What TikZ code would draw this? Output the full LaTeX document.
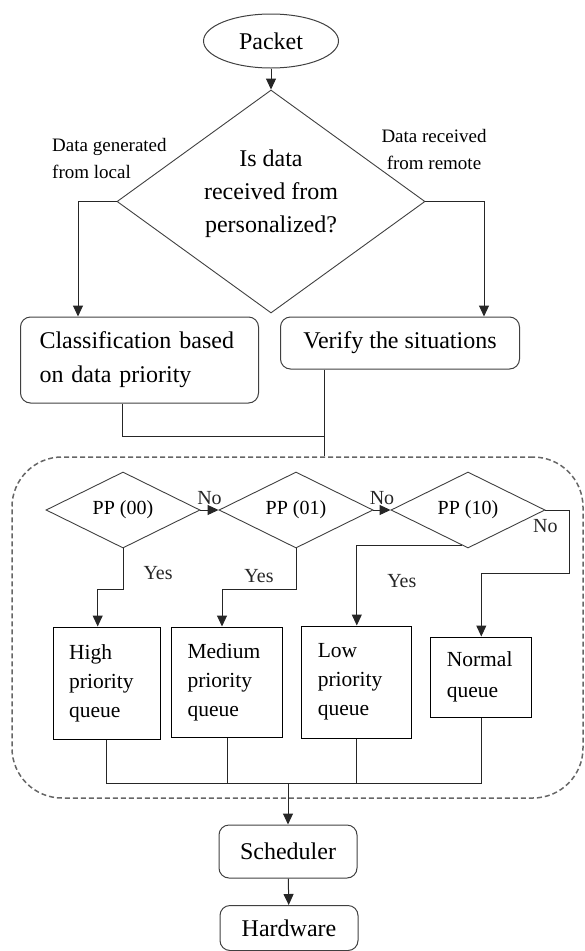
\documentclass[tikz,border=0pt]{standalone}
\usepackage{fontspec}
\setmainfont{Liberation Serif}
\usetikzlibrary{arrows.meta,shapes.geometric}

\begin{document}
\begin{tikzpicture}[x=1pt,y=-1pt,
  >={Triangle[length=11pt,width=10pt]},
  ln/.style={line width=1pt,black!85},
  arr/.style={ln,->},
  rbox/.style={draw=black!75,line width=1pt,rounded corners=10pt,inner sep=0pt,font=\fontsize{24}{34}\selectfont},
  qbox/.style={draw,line width=1pt,inner xsep=16pt,inner ysep=0pt,align=left,font=\fontsize{21.5}{29}\selectfont},
  dec/.style={draw=black!75,diamond,aspect=2,inner sep=0pt,line width=0.9pt,minimum width=154pt,minimum height=76pt,font=\fontsize{20}{24}\selectfont},
  lbl/.style={font=\fontsize{20}{24}\selectfont,inner sep=0pt},
  side/.style={font=\fontsize{19}{27}\selectfont,inner sep=0pt}]
  \useasboundingbox (0,0) rectangle (585,951);
  \node[draw=black!60,dash pattern=on 5pt off 3pt,line width=1.5pt,rounded corners=50pt,minimum width=571pt,minimum height=341pt] (group) at (297.5,627.5) {};

  \node[draw=black!75,ellipse,line width=1pt,minimum width=135pt,minimum height=54pt,inner sep=0pt,font=\fontsize{24}{30}\selectfont] (packet) at (271,41) {Packet};
  \node[dec,aspect=1.38,minimum width=308pt,minimum height=223pt,align=center,text depth=20pt,font=\fontsize{24}{33}\selectfont] (decide) at (271,201.5) {Is data\\received from\\personalized?};
  \node[side,align=left,anchor=west] (fromlocal) at (52,158) {Data generated\\from local};
  \node[side,align=center] (fromremote) at (434,149) {Data received\\from remote};

  \node[rbox,minimum width=238pt,minimum height=86pt,text width=200pt,align=left] (class) at (139.5,360) {Classification based\\on data priority};
  \node[rbox,minimum width=239pt,minimum height=52pt] (verify) at (400,343) {Verify the situations};

  \node[dec] (pp00) at (123,510) {PP (00)};
  \node[dec] (pp01) at (296,510) {PP (01)};
  \node[dec] (pp10) at (468,510) {PP (10)};

  \node[qbox,text width=75pt,minimum height=112pt] (high) at (106.7,683) {High\\priority\\queue};
  \node[qbox,text width=79pt,minimum height=110pt] (medium) at (227,682) {Medium\\priority\\queue};
  \node[qbox,text width=78pt,minimum height=112pt] (low) at (356.8,682) {Low\\priority\\queue};
  \node[qbox,text width=69pt,minimum height=80pt,font=\fontsize{21.5}{31}\selectfont] (normal) at (481.3,677) {Normal\\queue};

  \node[rbox,minimum width=138pt,minimum height=53pt] (sched) at (288,851.5) {Scheduler};
  \node[rbox,minimum width=138pt,minimum height=45pt] (hw) at (289,928) {Hardware};

  \coordinate (merge) at (324,436);
  \coordinate (ybend) at (0,589);
  \coordinate (nobend) at (569,573);
  \coordinate (bus) at (288,783);

  \draw[arr] (packet) -- (decide);
  \draw[arr] (decide.west) -| ([xshift=-61.5pt]class.north);
  \draw[arr] (decide.east) -| ([xshift=84pt]verify.north);
  \draw[ln] ([xshift=-17pt]class.south) |- (merge);
  \draw[ln] ([xshift=-76pt]verify.south) -- (merge |- group.north);

  \draw[arr] (pp00) -- node[lbl,above=5pt]{No} (pp01);
  \draw[arr] (pp01) -- node[lbl,above=5pt]{No} (pp10);
  \draw[arr] (pp10.east) node[lbl,below=9pt]{No} -| (nobend) -| (normal.north);
  \draw[arr] (pp00.south) -- node[lbl,right=20pt,pos=0.6]{Yes} (pp00.south |- ybend) -| ([xshift=-9pt]high.north);
  \draw[arr] (pp01.south) -- (pp01.south |- ybend) -| node[lbl,pos=0.25,above=6pt]{Yes} ([xshift=-5pt]medium.north);
  \draw[arr] ([shift={(-6pt,3pt)}]pp10.south) -| node[lbl,pos=0.72,right=30pt]{Yes} (low.north);

  \draw[ln] (high.south) |- (bus);
  \draw[ln] (medium.south) -- (medium.south |- bus);
  \draw[ln] (low.south) -- (low.south |- bus);
  \draw[ln] (normal.south) |- (bus);
  \draw[arr] (bus) -- (sched);
  \draw[arr] (sched) -- (hw);
\end{tikzpicture}
\end{document}
